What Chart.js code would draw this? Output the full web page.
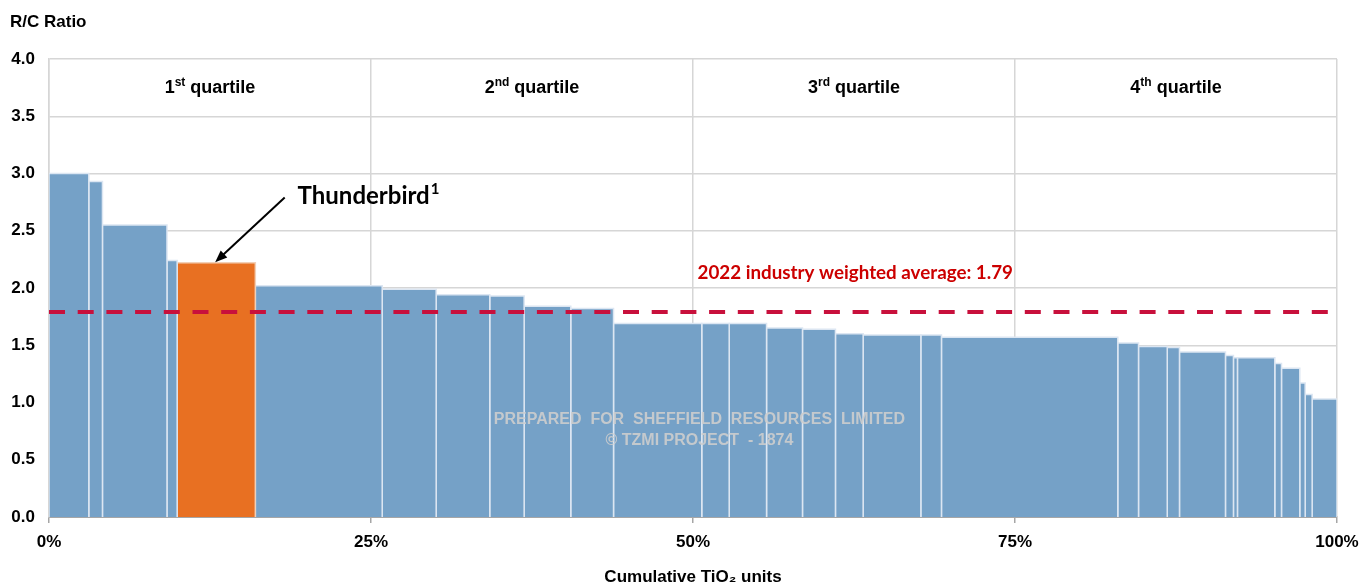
<!DOCTYPE html>
<html>
<head>
<meta charset="utf-8">
<script src="https://cdn.jsdelivr.net/npm/chart.js@4.4.1/dist/chart.umd.min.js"></script>
<style>
  html, body { margin: 0; padding: 0; background: #fff; }
  #wrap { width: 1359px; height: 586px; position: relative; }
</style>
</head>
<body>
<div id="wrap"><canvas id="rcCurve"></canvas></div>
<script>
// cumulative share of TiO2 units (%) at the right edge of each producer
const cumShare = [3.09, 4.15, 9.16, 9.95, 16.02, 25.87, 30.06, 34.22, 36.89, 40.51,
  43.83, 50.68, 52.81, 55.71, 58.50, 61.06, 63.21, 67.69, 69.29, 82.98,
  84.59, 86.82, 87.77, 91.34, 91.96, 92.27, 95.17, 95.69, 97.11, 97.53,
  98.07, 100];
// R/C ratio of each producer
const rcRatio = [3.00, 2.93, 2.55, 2.24, 2.22, 2.02, 1.99, 1.94, 1.93, 1.84,
  1.82, 1.69, 1.69, 1.69, 1.65, 1.64, 1.60, 1.59, 1.59, 1.57,
  1.52, 1.49, 1.48, 1.44, 1.41, 1.39, 1.39, 1.34, 1.30, 1.17,
  1.07, 1.03];
const highlightIdx = 4;
const highlightName = 'Thunderbird';
const highlightNote = '1';
const avgRatio = 1.79;
const avgLabel = '2022 industry weighted average: 1.79';
const xTickValues = [0, 25, 50, 75, 100];
const quartileNums = ['1', '2', '3', '4'];
const quartileSups = ['st', 'nd', 'rd', 'th'];
const watermark = ['PREPARED  FOR  SHEFFIELD  RESOURCES  LIMITED', '\u00A9 TZMI PROJECT  - 1874'];

const BLUE = '#75a1c7';
const ORANGE = '#e87022';
const GRID = '#d6d6d6';
const ARIAL = '"Liberation Sans", Arial, sans-serif';
const CALIBRI = 'Lato, "Open Sans", sans-serif';

// each producer is a step-shaped line filled down to zero
const barSets = rcRatio.map((v, i) => {
  const x0 = i === 0 ? 0 : cumShare[i - 1];
  const x1 = cumShare[i];
  const hl = i === highlightIdx;
  return {
    data: [{x: x0, y: 0}, {x: x0, y: v}, {x: x1, y: v}, {x: x1, y: 0}],
    backgroundColor: hl ? ORANGE : BLUE,
    borderColor: hl ? '#f2cfb6' : '#dce6f2',
    borderWidth: 1.5,
    fill: 'origin',
    pointRadius: 0,
    tension: 0,
    order: 2
  };
});

const avgSet = {
  data: [{x: 0, y: avgRatio}, {x: 100, y: avgRatio}],
  borderColor: '#c8103c',
  borderWidth: 4,
  borderDash: [16, 12.7],
  fill: false,
  pointRadius: 0,
  order: 0
};

function supText(ctx, parts, cx, cy) {
  // parts: [text, isSup, supFont, raise]; drawn centred on cx
  const big = ctx.font;
  let total = 0;
  const widths = parts.map(p => {
    ctx.font = p[1] ? p[2] : big;
    const w = ctx.measureText(p[0]).width;
    total += w;
    return w;
  });
  let x = cx - total / 2;
  parts.forEach((p, i) => {
    ctx.font = p[1] ? p[2] : big;
    ctx.fillText(p[0], x, p[1] ? cy - p[3] : cy);
    x += widths[i];
  });
  ctx.font = big;
}

const labels = {
  id: 'labels',
  afterDatasetsDraw(chart) {
    const {ctx, scales: {x, y}} = chart;
    ctx.save();
    ctx.textBaseline = 'middle';
    ctx.textAlign = 'left';

    // quartile headings
    ctx.fillStyle = '#000';
    quartileNums.forEach((n, i) => {
      ctx.font = 'bold 18px ' + ARIAL;
      supText(ctx, [[n, false], [quartileSups[i], true, 'bold 12px ' + ARIAL, 5], [' quartile', false]],
        x.getPixelForValue(12.5 + 25 * i), y.getPixelForValue(3.75));
    });

    // watermark
    ctx.fillStyle = 'rgba(205,205,205,0.9)';
    ctx.font = 'bold 16px ' + ARIAL;
    ctx.textAlign = 'center';
    ctx.fillText(watermark[0], x.getPixelForValue(50.5), y.getPixelForValue(0.85));
    ctx.fillText(watermark[1], x.getPixelForValue(50.5), y.getPixelForValue(0.665));

    // average label
    ctx.fillStyle = '#cc0000';
    ctx.font = 'bold 18.8px ' + CALIBRI;
    ctx.fillText(avgLabel, x.getPixelForValue(62.6), y.getPixelForValue(2.13));

    // highlighted producer label and arrow
    ctx.fillStyle = '#000';
    ctx.textAlign = 'left';
    ctx.font = 'bold 24px ' + CALIBRI;
    const tx = x.getPixelForValue(19.3);
    const ty = y.getPixelForValue(2.80);
    ctx.fillText(highlightName, tx, ty);
    const tw = ctx.measureText(highlightName).width;
    ctx.font = 'bold 15px ' + CALIBRI;
    ctx.fillText(highlightNote, tx + tw + 1, ty - 7);

    const x1 = x.getPixelForValue(18.3), y1 = y.getPixelForValue(2.79);
    const x2 = x.getPixelForValue(12.9), y2 = y.getPixelForValue(2.225);
    const ang = Math.atan2(y2 - y1, x2 - x1);
    ctx.strokeStyle = '#000';
    ctx.lineWidth = 2;
    ctx.beginPath();
    ctx.moveTo(x1, y1);
    ctx.lineTo(x2 - 8 * Math.cos(ang), y2 - 8 * Math.sin(ang));
    ctx.stroke();
    ctx.beginPath();
    ctx.moveTo(x2, y2);
    ctx.lineTo(x2 - 13 * Math.cos(ang - 0.38), y2 - 13 * Math.sin(ang - 0.38));
    ctx.lineTo(x2 - 13 * Math.cos(ang + 0.38), y2 - 13 * Math.sin(ang + 0.38));
    ctx.closePath();
    ctx.fill();

    // y axis caption
    ctx.font = 'bold 17px ' + ARIAL;
    ctx.fillText('R/C Ratio', 10, 22);
    ctx.restore();
  }
};

new Chart(document.getElementById('rcCurve'), {
  type: 'line',
  data: { datasets: [avgSet, ...barSets] },
  options: {
    responsive: true,
    maintainAspectRatio: false,
    animation: false,
    layout: { padding: { top: 59, right: 22, left: 0, bottom: 0 } },
    plugins: { legend: { display: false }, tooltip: { enabled: false } },
    scales: {
      x: {
        type: 'linear',
        min: 0,
        max: 100,
        afterBuildTicks: s => { s.ticks = xTickValues.map(v => ({value: v})); },
        afterFit: s => { s.height = 69; s.paddingLeft = 0; s.paddingRight = 0; },
        ticks: {
          callback: v => v + '%',
          color: '#000',
          font: { family: ARIAL, size: 17, weight: 'bold' },
          padding: 9,
          maxRotation: 0
        },
        grid: { color: GRID, lineWidth: 1.5, tickLength: 6, tickColor: '#a6a6a6' },
        border: { color: '#a6a6a6', width: 2 },
        title: {
          display: true,
          text: 'Cumulative TiO\u2082 units',
          color: '#000',
          font: { family: ARIAL, size: 17, weight: 'bold', lineHeight: 1 },
          padding: 0
        }
      },
      y: {
        min: 0,
        max: 4,
        afterFit: s => { s.width = 49; s.paddingTop = 0; s.paddingBottom = 0; },
        ticks: {
          stepSize: 0.5,
          callback: v => v.toFixed(1),
          color: '#000',
          font: { family: ARIAL, size: 17, weight: 'bold' },
          padding: 14
        },
        grid: { color: GRID, lineWidth: 1.5, drawTicks: false },
        border: { color: GRID, width: 1.5 }
      }
    }
  },
  plugins: [labels]
});
</script>
</body>
</html>
